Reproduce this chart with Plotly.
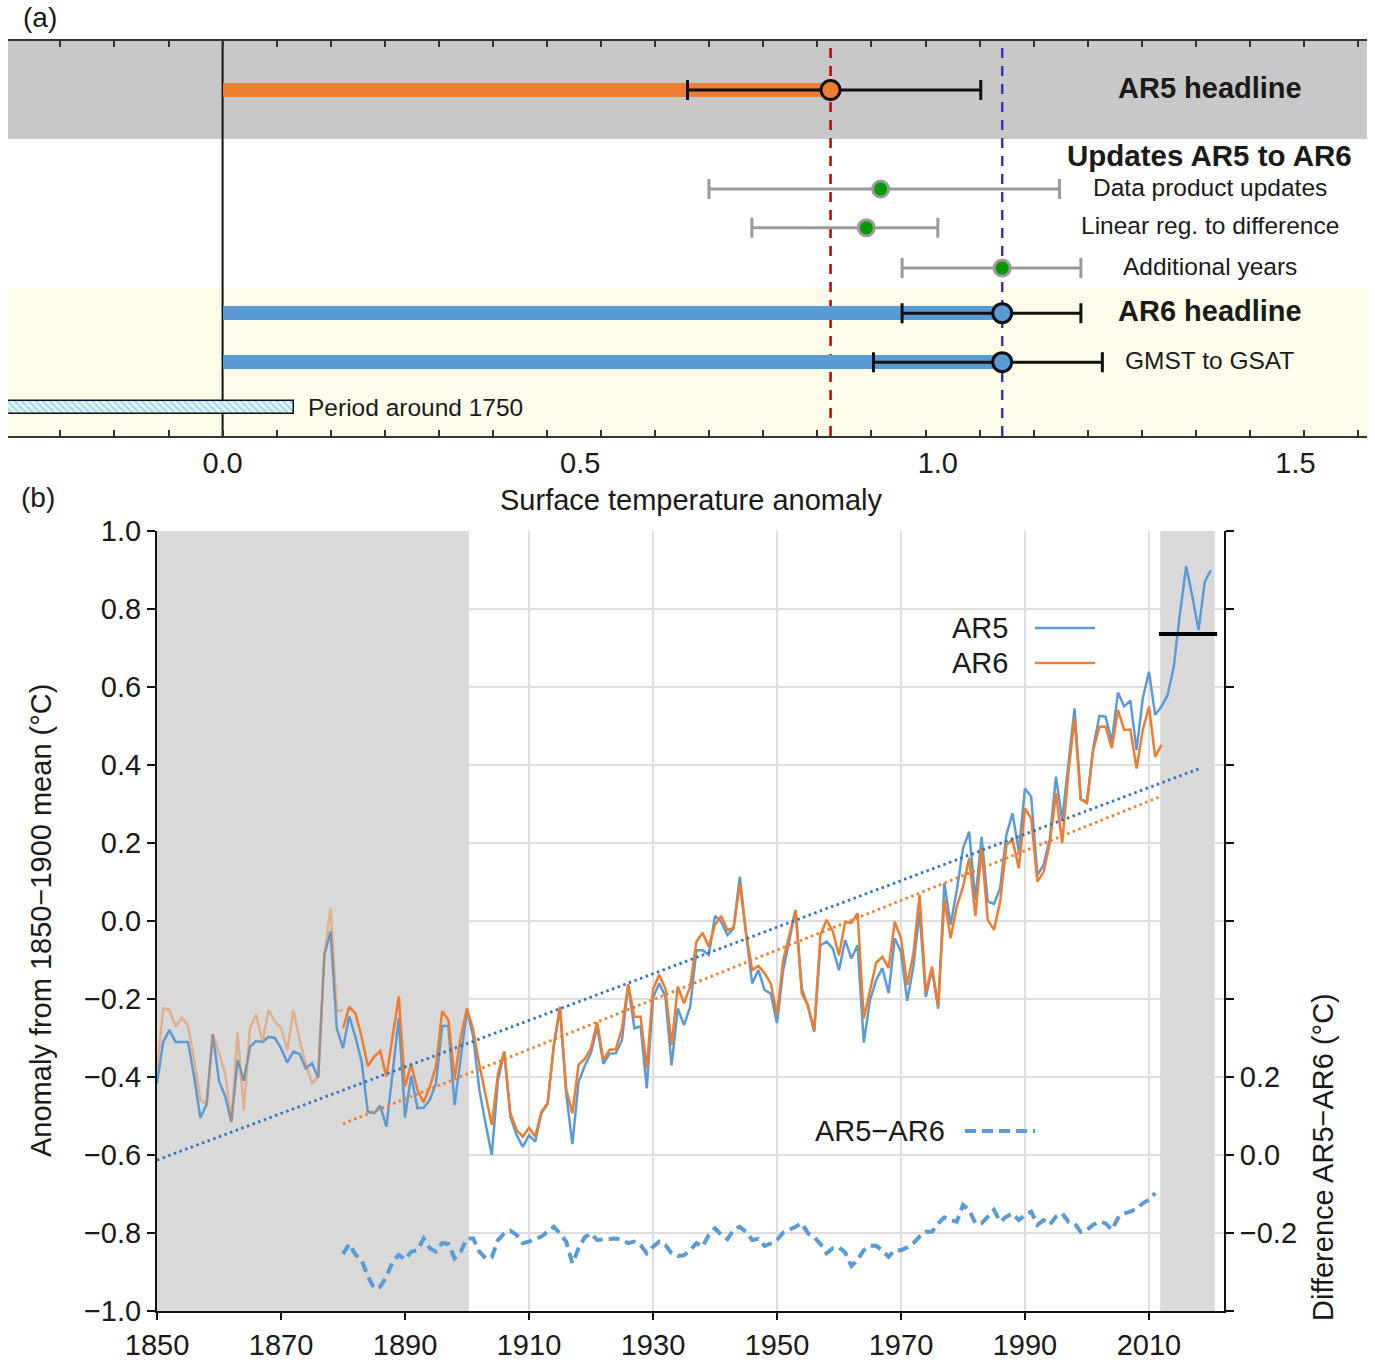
import numpy as np
import plotly.graph_objects as go

W, H = 1375, 1364


def fx(p):
    return p / W


def fy(p):
    return 1 - p / H


# ---------------- Panel (a) data ----------------
a_items = ["AR5 headline", "Data product updates", "Linear reg. to difference",
           "Additional years", "AR6 headline", "GMST to GSAT"]
a_central = [0.85, 0.92, 0.90, 1.09, 1.09, 1.09]
a_low = [0.65, 0.68, 0.74, 0.95, 0.95, 0.91]
a_high = [1.06, 1.17, 1.00, 1.20, 1.20, 1.23]
a_group_title = "Updates AR5 to AR6"
a_period_label = "Period around 1750"
a_period_range = [-0.3, 0.1]
a_tick_values = [0.0, 0.5, 1.0, 1.5]
a_tick_labels = ["0.0", "0.5", "1.0", "1.5"]
a_xlabel = "Surface temperature anomaly"

# ---------------- Panel (b) data ----------------
years_ar5 = list(range(1850, 2021))
ar5 = [
    -0.416, -0.310, -0.280, -0.310, -0.310, -0.310, -0.400, -0.505, -0.470, -0.290,
    -0.410, -0.450, -0.515, -0.356, -0.410, -0.322, -0.308, -0.310, -0.297, -0.300,
    -0.326, -0.363, -0.335, -0.341, -0.378, -0.365, -0.402, -0.087, -0.027, -0.275,
    -0.326, -0.244, -0.297, -0.361, -0.489, -0.493, -0.474, -0.527, -0.390, -0.248,
    -0.504, -0.397, -0.480, -0.479, -0.459, -0.416, -0.269, -0.269, -0.472, -0.344,
    -0.228, -0.297, -0.433, -0.519, -0.600, -0.408, -0.335, -0.502, -0.549, -0.579,
    -0.549, -0.566, -0.493, -0.468, -0.322, -0.224, -0.442, -0.572, -0.412, -0.371,
    -0.338, -0.272, -0.366, -0.340, -0.339, -0.305, -0.164, -0.275, -0.270, -0.429,
    -0.197, -0.160, -0.194, -0.370, -0.224, -0.267, -0.220, -0.075, -0.075, -0.087,
    0.013, -0.002, -0.036, -0.019, 0.114, -0.030, -0.160, -0.126, -0.177, -0.186,
    -0.262, -0.126, -0.049, 0.028, -0.173, -0.220, -0.284, -0.062, -0.053, -0.070,
    -0.126, -0.049, -0.096, -0.062, -0.312, -0.203, -0.151, -0.121, -0.185, -0.044,
    -0.079, -0.205, -0.117, 0.024, -0.195, -0.125, -0.225, 0.097, -0.010, 0.079,
    0.186, 0.229, 0.054, 0.216, 0.050, 0.044, 0.084, 0.221, 0.276, 0.178,
    0.340, 0.319, 0.118, 0.144, 0.210, 0.370, 0.259, 0.400, 0.545, 0.312,
    0.306, 0.443, 0.526, 0.524, 0.460, 0.586, 0.550, 0.565, 0.438, 0.571,
    0.639, 0.528, 0.550, 0.579, 0.652, 0.789, 0.909, 0.832, 0.746, 0.870,
    0.900,
]
years_ar6 = list(range(1880, 2013))
ar6 = [
    -0.275, -0.220, -0.237, -0.297, -0.372, -0.348, -0.333, -0.399, -0.296, -0.194,
    -0.425, -0.367, -0.433, -0.465, -0.425, -0.372, -0.231, -0.254, -0.403, -0.297,
    -0.224, -0.279, -0.369, -0.446, -0.523, -0.391, -0.335, -0.493, -0.536, -0.553,
    -0.530, -0.553, -0.489, -0.468, -0.318, -0.220, -0.431, -0.493, -0.368, -0.354,
    -0.326, -0.260, -0.356, -0.330, -0.329, -0.275, -0.162, -0.246, -0.245, -0.378,
    -0.176, -0.138, -0.173, -0.318, -0.168, -0.211, -0.168, -0.053, -0.030, -0.066,
    -0.010, 0.013, -0.023, -0.018, 0.097, -0.030, -0.126, -0.115, -0.134, -0.160,
    -0.241, -0.100, -0.036, 0.028, -0.186, -0.216, -0.281, -0.036, 0.003, -0.027,
    -0.088, -0.002, -0.005, 0.020, -0.250, -0.175, -0.107, -0.092, -0.121, -0.002,
    -0.044, -0.164, -0.083, 0.067, -0.184, -0.117, -0.218, 0.056, -0.044, 0.037,
    0.088, 0.161, 0.013, 0.186, 0.003, -0.023, 0.050, 0.195, 0.208, 0.135,
    0.289, 0.263, 0.101, 0.126, 0.199, 0.327, 0.200, 0.380, 0.520, 0.312,
    0.302, 0.438, 0.498, 0.498, 0.443, 0.541, 0.490, 0.491, 0.391, 0.490,
    0.550, 0.421, 0.451,
]
years_ar6_early = list(range(1850, 1881))
ar6_early = [
    -0.382, -0.224, -0.228, -0.271, -0.248, -0.268, -0.356, -0.459, -0.469, -0.290,
    -0.340, -0.390, -0.515, -0.286, -0.485, -0.275, -0.239, -0.311, -0.228, -0.258,
    -0.273, -0.332, -0.228, -0.305, -0.369, -0.415, -0.400, -0.087, 0.032, -0.232,
    -0.228,
]
years_diff = list(range(1880, 2012))
diff = [
    -0.254, -0.228, -0.255, -0.270, -0.310, -0.342, -0.338, -0.312, -0.274, -0.256,
    -0.268, -0.248, -0.244, -0.214, -0.239, -0.248, -0.226, -0.228, -0.265, -0.248,
    -0.214, -0.214, -0.248, -0.265, -0.262, -0.218, -0.201, -0.194, -0.205, -0.226,
    -0.222, -0.216, -0.209, -0.197, -0.184, -0.201, -0.222, -0.278, -0.239, -0.211,
    -0.201, -0.218, -0.216, -0.214, -0.214, -0.218, -0.226, -0.222, -0.231, -0.252,
    -0.235, -0.222, -0.231, -0.252, -0.259, -0.257, -0.244, -0.226, -0.235, -0.205,
    -0.188, -0.205, -0.216, -0.192, -0.184, -0.197, -0.218, -0.215, -0.233, -0.227,
    -0.218, -0.199, -0.192, -0.184, -0.175, -0.201, -0.211, -0.228, -0.252, -0.239,
    -0.237, -0.250, -0.285, -0.269, -0.244, -0.233, -0.233, -0.245, -0.261, -0.244,
    -0.244, -0.237, -0.226, -0.209, -0.197, -0.197, -0.175, -0.160, -0.167, -0.171,
    -0.128, -0.141, -0.175, -0.175, -0.158, -0.141, -0.171, -0.158, -0.150, -0.167,
    -0.154, -0.145, -0.179, -0.167, -0.179, -0.158, -0.150, -0.171, -0.175, -0.197,
    -0.192, -0.179, -0.171, -0.175, -0.192, -0.162, -0.150, -0.145, -0.137, -0.124,
    -0.115, -0.098,
]
trend_ar5_years = [1850, 2018]
trend_ar5 = [-0.613, 0.390]
trend_ar6_years = [1880, 2012]
trend_ar6 = [-0.520, 0.320]
recent_years = [2011.6, 2021.0]
recent_level = [0.736, 0.736]
shade_periods = [(1850, 1900.3), (2011.8, 2020.6)]
b_xticks = list(range(1850, 2011, 20))
b_ylabel = "Anomaly from 1850\u22121900 mean (\u00b0C)"
b_y2label = "Difference AR5\u2212AR6 (\u00b0C)"
diff_tick_labels = {-0.2: "\u22120.2", 0.0: "0.0", 0.2: "0.2"}
legend_names = ["AR5", "AR6", "AR5\u2212AR6"]

# ---------------- styles ----------------
ORANGE = "#ED7D31"
BLUE = "#5B9BD5"
FONT = "Liberation Sans, Arial, sans-serif"
TXT = "#1a1a1a"

rows = [1.24, 3.75, 4.73, 5.75, 6.89, 8.13]
row_group = 2.89
row_period = 9.27
grey_band = (0, 2.48)
yellow_band = (6.25, 10)
a_minor_step = 0.0756

fig = go.Figure()

# ---------------- Panel (a) ----------------
bar_rows = {0: ORANGE, 4: BLUE, 5: BLUE}
for i, col in bar_rows.items():
    fig.add_trace(go.Bar(x=[a_central[i]], base=[0], y=[rows[i]], orientation="h",
                         width=0.36, marker=dict(color=col, line=dict(width=0)),
                         xaxis="x", yaxis="y", showlegend=False, hoverinfo="skip"))

fig.add_trace(go.Bar(x=[a_period_range[1] - a_period_range[0]], base=[a_period_range[0]],
                     y=[row_period], orientation="h", width=0.33,
                     marker=dict(color="#e4f5fa",
                                 pattern=dict(shape="\\", fgcolor="#55b8d2", bgcolor="#e4f5fa",
                                              size=5, solidity=0.4),
                                 line=dict(color="#111", width=1.5)),
                     xaxis="x", yaxis="y", showlegend=False, hoverinfo="skip"))

for i in range(len(a_items)):
    headline = i in bar_rows
    ecol = "#111" if headline else "#9a9a9a"
    if i == 0:
        mfill, mline = ORANGE, "#111"
    elif headline:
        mfill, mline = BLUE, "#111"
    else:
        mfill, mline = "#009a00", "#9a9a9a"
    fig.add_trace(go.Scatter(
        x=[a_central[i]], y=[rows[i]], mode="markers",
        error_x=dict(type="data", symmetric=False,
                     array=[a_high[i] - a_central[i]],
                     arrayminus=[a_central[i] - a_low[i]],
                     color=ecol, thickness=3, width=10),
        marker=dict(size=19 if headline else 16, color=mfill,
                    line=dict(color=mline, width=3)),
        xaxis="x", yaxis="y", showlegend=False, hoverinfo="skip"))

# invisible trace to activate the top tick axis of panel (a)
fig.add_trace(go.Scatter(x=[0], y=[0], mode="markers", marker=dict(opacity=0),
                         xaxis="x3", yaxis="y", showlegend=False, hoverinfo="skip"))

shapes = []
shapes.append(dict(type="rect", xref="x domain", yref="y", x0=0, x1=1,
                   y0=grey_band[0], y1=grey_band[1], fillcolor="#c8c8c8",
                   line=dict(width=0), layer="below"))
shapes.append(dict(type="rect", xref="x domain", yref="y", x0=0, x1=1,
                   y0=yellow_band[0], y1=yellow_band[1], fillcolor="#fefde9",
                   line=dict(width=0), layer="below"))
shapes.append(dict(type="line", xref="x", yref="y domain", x0=0, x1=0, y0=0, y1=1,
                   line=dict(color="#111", width=2), layer="below"))
shapes.append(dict(type="line", xref="x", yref="y domain", x0=a_central[0], x1=a_central[0],
                   y0=0, y1=1, line=dict(color="#c00000", width=2.5, dash="10px,8px"),
                   layer="below"))
shapes.append(dict(type="line", xref="x", yref="y domain", x0=a_central[4], x1=a_central[4],
                   y0=0, y1=1, line=dict(color="#3636b0", width=2.5, dash="10px,8px"),
                   layer="below"))

annotations = []
label_x = 1.38
for i, name in enumerate(a_items):
    bold = i in (0, 4)
    annotations.append(dict(x=label_x, y=rows[i] - 0.05, xref="x", yref="y",
                            text=f"<b>{name}</b>" if bold else name, showarrow=False,
                            font=dict(family=FONT, size=29 if bold else 24.5, color=TXT),
                            xanchor="center", yanchor="middle"))
annotations.append(dict(x=label_x, y=row_group, xref="x", yref="y",
                        text=f"<b>{a_group_title}</b>", showarrow=False,
                        font=dict(family=FONT, size=29.5, color=TXT),
                        xanchor="center", yanchor="middle"))
annotations.append(dict(x=a_period_range[1] + 0.016, y=row_period, xref="x", yref="y",
                        text=a_period_label, showarrow=False,
                        font=dict(family=FONT, size=24.5, color=TXT),
                        xanchor="left", yanchor="middle"))

# ---------------- Panel (b) ----------------
for (s0, s1) in shade_periods:
    fig.add_trace(go.Scatter(x=[s0, s1, s1, s0, s0], y=[-1, -1, 1, 1, -1], mode="lines",
                             fill="toself", fillcolor="#d9d9d9", line=dict(width=0),
                             xaxis="x2", yaxis="y2", showlegend=False, hoverinfo="skip"))

fig.add_trace(go.Scatter(x=years_ar5, y=ar5, mode="lines", line=dict(color=BLUE, width=2.5),
                         xaxis="x2", yaxis="y2", showlegend=False, hoverinfo="skip"))
fig.add_trace(go.Scatter(x=years_ar6_early, y=ar6_early, mode="lines",
                         line=dict(color=ORANGE, width=2.5), opacity=0.45,
                         xaxis="x2", yaxis="y2", showlegend=False, hoverinfo="skip"))
fig.add_trace(go.Scatter(x=years_ar6, y=ar6, mode="lines", line=dict(color=ORANGE, width=2.5),
                         xaxis="x2", yaxis="y2", showlegend=False, hoverinfo="skip"))
fig.add_trace(go.Scatter(x=trend_ar5_years, y=trend_ar5, mode="lines",
                         line=dict(color="#2f74c0", width=2.8, dash="2.5px,3.5px"),
                         xaxis="x2", yaxis="y2", showlegend=False, hoverinfo="skip"))
fig.add_trace(go.Scatter(x=trend_ar6_years, y=trend_ar6, mode="lines",
                         line=dict(color=ORANGE, width=2.8, dash="2.5px,3.5px"),
                         xaxis="x2", yaxis="y2", showlegend=False, hoverinfo="skip"))
fig.add_trace(go.Scatter(x=recent_years, y=recent_level, mode="lines",
                         line=dict(color="#000", width=4),
                         xaxis="x2", yaxis="y2", showlegend=False, hoverinfo="skip"))
fig.add_trace(go.Scatter(x=years_diff, y=diff, mode="lines",
                         line=dict(color=BLUE, width=4, dash="11px,6px"),
                         xaxis="x2", yaxis="y3", showlegend=False, hoverinfo="skip"))

leg = [(legend_names[0], 628, BLUE, None, 1010, 1035, 1095),
       (legend_names[1], 663, ORANGE, None, 1010, 1035, 1095),
       (legend_names[2], 1131, BLUE, "11px,6px", 947, 965, 1035)]
for name, py, col, dash, tx, l0, l1 in leg:
    annotations.append(dict(x=fx(tx), y=fy(py), xref="paper", yref="paper", text=name,
                            showarrow=False, font=dict(family=FONT, size=29, color=TXT),
                            xanchor="right", yanchor="middle"))
    shapes.append(dict(type="line", xref="paper", yref="paper", x0=fx(l0), x1=fx(l1),
                       y0=fy(py), y1=fy(py),
                       line=dict(color=col, width=4 if dash else 2.5, dash=dash or "solid")))

annotations += [
    dict(x=fx(40), y=fy(18), xref="paper", yref="paper", text="(a)", showarrow=False,
         font=dict(family=FONT, size=28, color=TXT), xanchor="center", yanchor="middle"),
    dict(x=fx(38), y=fy(497), xref="paper", yref="paper", text="(b)", showarrow=False,
         font=dict(family=FONT, size=28, color=TXT), xanchor="center", yanchor="middle"),
    dict(x=fx(691), y=fy(500), xref="paper", yref="paper", text=a_xlabel, showarrow=False,
         font=dict(family=FONT, size=29, color=TXT), xanchor="center", yanchor="middle"),
    dict(x=fx(41), y=fy(921), xref="paper", yref="paper", text=b_ylabel, showarrow=False,
         textangle=-90, font=dict(family=FONT, size=29, color=TXT),
         xanchor="center", yanchor="middle"),
    dict(x=fx(1323), y=fy(1157), xref="paper", yref="paper", text=b_y2label, showarrow=False,
         textangle=-90, font=dict(family=FONT, size=29, color=TXT),
         xanchor="center", yanchor="middle"),
]

minor_vals = [round(k * a_minor_step, 4) for k in range(-4, 23)
              if -0.3 <= k * a_minor_step <= 1.6]
y3_vals = [round(v, 1) for v in np.arange(-0.4, 1.61, 0.2)]
y3_text = [diff_tick_labels.get(v, "") for v in y3_vals]

fig.update_layout(
    width=W, height=H, autosize=False,
    margin=dict(l=0, r=0, t=0, b=0, pad=0, autoexpand=False),
    paper_bgcolor="white", plot_bgcolor="rgba(0,0,0,0)",
    barmode="overlay", bargap=0,
    font=dict(family=FONT, size=29, color=TXT),
    shapes=shapes, annotations=annotations,
    xaxis=dict(domain=[fx(8), fx(1367)], anchor="y", range=[-0.3, 1.6],
               tickvals=a_tick_values, ticktext=a_tick_labels, ticks="",
               showline=True, linecolor="#333", linewidth=2, automargin=False,
               showgrid=False, zeroline=False, tickfont=dict(size=29, family=FONT, color=TXT),
               minor=dict(tickvals=minor_vals, ticks="inside", ticklen=6,
                          tickcolor="#333", tickwidth=1.5, showgrid=False)),
    xaxis3=dict(overlaying="x", side="top", anchor="y", range=[-0.3, 1.6],
                tickvals=minor_vals, ticks="inside", ticklen=6, tickcolor="#333",
                tickwidth=1.5, showticklabels=False, showline=True, linecolor="#333",
                linewidth=2, showgrid=False, zeroline=False, automargin=False),
    yaxis=dict(domain=[fy(436), fy(41)], anchor="x", range=[10, 0], visible=False,
               showgrid=False, zeroline=False, automargin=False),
    xaxis2=dict(domain=[fx(157), fx(1224)], anchor="y2", range=[1850, 2022.1],
                tickvals=b_xticks, ticks="outside", ticklen=7, tickwidth=2, tickcolor="#111",
                showgrid=True, gridcolor="#dedede", gridwidth=2, automargin=False,
                showline=True, linecolor="#111", linewidth=2, zeroline=False,
                tickfont=dict(size=29, family=FONT, color=TXT)),
    yaxis2=dict(domain=[fy(1311), fy(531)], anchor="x2", range=[-1, 1], dtick=0.2,
                tick0=-1, tickformat=".1f", showgrid=True, gridcolor="#dedede", gridwidth=2,
                showline=True, linecolor="#111", linewidth=2, zeroline=False, automargin=False,
                ticks="outside", ticklen=8, tickwidth=2, tickcolor="#111",
                tickfont=dict(size=29, family=FONT, color=TXT)),
    yaxis3=dict(overlaying="y2", side="right", anchor="x2", range=[-0.4, 1.6],
                tickvals=y3_vals, ticktext=y3_text, showgrid=False, zeroline=False,
                showline=True, linecolor="#111", linewidth=2, automargin=False,
                ticks="outside", ticklen=8, tickwidth=2, tickcolor="#111",
                tickfont=dict(size=29, family=FONT, color=TXT)),
)

fig.write_html("out.html", config={"displayModeBar": False},
               post_script="document.body.style.margin='0';document.body.style.overflow='hidden';")
